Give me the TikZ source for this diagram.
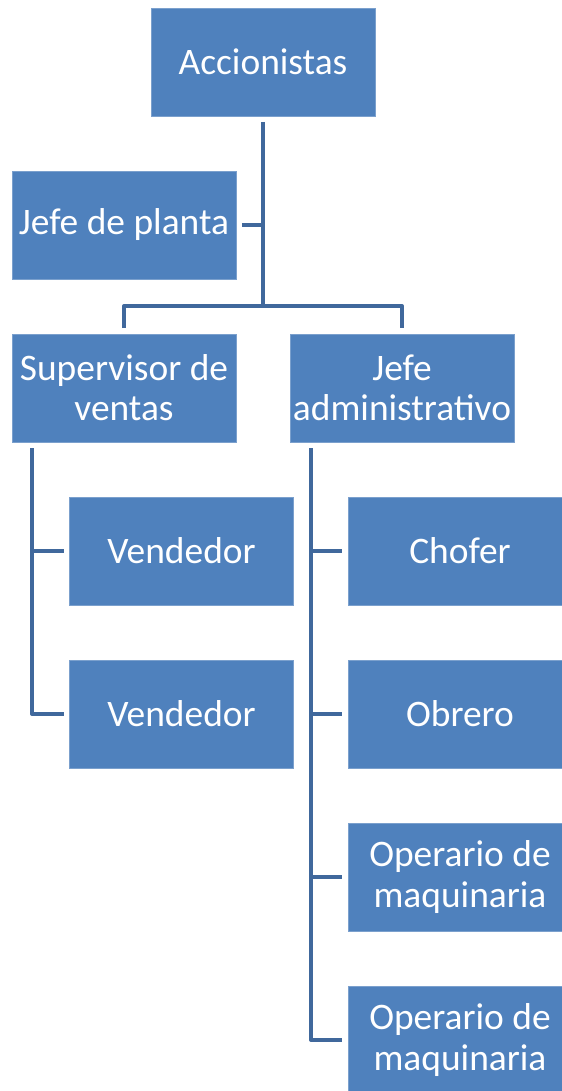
\documentclass[tikz,border=0pt]{standalone}
\usepackage{fontspec}
\setmainfont{Carlito}
\definecolor{boxblue}{RGB}{79,129,189}
\definecolor{lineblue}{RGB}{64,104,156}
\tikzset{
    box/.style={rectangle, fill=boxblue, draw=boxblue!75!white, line width=0.5pt, minimum width=4.48cm, minimum height=2.16cm, inner xsep=0.04cm, align=center, text=white, font=\fontsize{21.3}{22.8}\selectfont, outer sep=0.12cm},
    conn/.style={draw=lineblue, line width=0.08cm, line join=round}
}

\begin{document}
\begin{tikzpicture}[x=0.02cm, y=-0.02cm]
    \useasboundingbox (0,0) rectangle (561,1091);

    % Top
    \node[box] (acc) at (263,62) {Accionistas};
    \node[box] (planta) at (124,225) {Jefe de planta};

    % Second level
    \node[box] (sup) at (124,388) {Supervisor de\\ventas};
    \node[box] (adm) at (402,388) {Jefe\\administrativo};

    % Ventas
    \node[box] (ven1) at (181.5,551) {Vendedor};
    \node[box] (ven2) at (181.5,714) {Vendedor};

    % Administracion
    \node[box] (chofer) at (460,551) {Chofer};
    \node[box] (obrero) at (460,714) {Obrero};
    \node[box] (op1) at (460,877) {Operario de\\maquinaria};
    \node[box] (op2) at (460,1040) {Operario de\\maquinaria};

    % Lines
    \coordinate (split) at (263,306);
    \coordinate (supbar) at (32,448);
    \coordinate (admbar) at (311,448);
    \draw[conn] (acc.south) -- (split);
    \draw[conn] (planta.east) -- (planta.east -| split);
    \draw[conn] (sup.north) |- (split) -| (adm.north);
    \draw[conn] (supbar) |- (ven2.west);
    \draw[conn] (supbar |- ven1.west) -- (ven1.west);
    \draw[conn] (admbar) |- (op2.west);
    \foreach \n in {chofer, obrero, op1}
        \draw[conn] (admbar |- \n.west) -- (\n.west);
\end{tikzpicture}
\end{document}
